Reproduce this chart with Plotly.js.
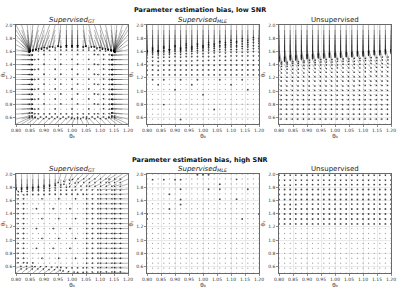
<!DOCTYPE html>
<html><head><meta charset="utf-8">
<script src="https://cdn.plot.ly/plotly-3.0.1.min.js"></script>
<style>html,body{margin:0;padding:0;background:#fff}</style>
</head><body><div id="chart" style="width:400px;height:294px"></div>
<script>
// grid of true parameters
const thetaX = [0.80,0.82,0.84,0.86,0.88,0.90,0.92,0.94,0.96,0.98,1.00,1.02,1.04,1.06,1.08,1.10,1.12,1.14,1.16,1.18,1.20];
const thetaY = [2.000,1.925,1.850,1.775,1.700,1.625,1.550,1.475,1.400,1.325,1.250,1.175,1.100,1.025,0.950,0.875,0.800,0.725,0.650,0.575,0.500];
const xTickVals = [0.80,0.85,0.90,0.95,1.00,1.05,1.10,1.15,1.20];
const xTickText = ['0.80','0.85','0.90','0.95','1.00','1.05','1.10','1.15','1.20'];
const yTickVals = [0.6,0.8,1.0,1.2,1.4,1.6,1.8,2.0];
const yTickText = ['0.6','0.8','1.0','1.2','1.4','1.6','1.8','2.0'];
const rowTitles = ['Parameter estimation bias, low SNR','Parameter estimation bias, high SNR'];
const panelTitles = ['<i>Supervised<sub>GT</sub></i>','<i>Supervised<sub>MLE</sub></i>','Unsupervised'];
const xLabel = 'θ₀', yLabel = 'θ₁';

// bias vectors (hundredths of a parameter unit), rows top (theta1=2.0) to bottom (0.5)
const gtLowU = [
[5,3,1,-1,-2,-3,-3,-2,-1,0,0,0,1,2,3,3,2,1,-1,-3,-5],
[5,3,1,-1,-2,-2,-2,-2,-1,0,0,0,1,2,2,2,2,1,-1,-3,-5],
[5,3,1,-1,-1,-2,-2,-1,-1,0,0,0,1,1,2,2,1,1,-1,-3,-5],
[5,3,1,-1,-1,-1,-1,-1,0,0,0,0,0,1,1,1,1,0,-1,-3,-5],
[5,3,1,0,-1,-1,-1,0,0,0,0,0,0,0,1,1,1,0,-1,-3,-5],
[5,3,1,0,0,0,0,0,0,0,0,0,0,0,0,0,0,0,-1,-3,-5],
[5,4,2,0,0,0,0,0,0,0,0,0,0,0,0,-1,-1,-1,-2,-4,-6],
[6,4,2,1,0,0,0,0,0,0,0,0,0,0,0,0,-1,-1,-2,-4,-6],
[5,4,2,0,0,0,0,0,0,0,0,0,0,0,0,-1,-1,-1,-2,-4,-6],
[6,4,2,1,0,0,0,0,0,0,0,0,0,0,0,0,-1,-1,-2,-4,-6],
[5,4,2,0,0,0,0,0,0,0,0,0,0,0,0,-1,-1,-1,-2,-4,-6],
[6,4,2,1,0,0,0,0,0,0,0,0,0,0,0,0,-1,-1,-2,-4,-6],
[5,4,2,0,0,0,0,0,0,0,0,0,0,0,0,-1,-1,-1,-2,-4,-6],
[6,4,2,1,0,0,0,0,0,0,0,0,0,0,0,0,-1,-1,-2,-4,-6],
[5,4,2,0,0,0,0,0,0,0,0,0,0,0,0,-1,-1,-1,-2,-4,-6],
[6,4,2,1,0,0,0,0,0,0,0,0,0,0,0,0,-1,-1,-2,-4,-6],
[5,4,2,0,0,0,0,0,0,0,0,0,0,0,0,-1,-1,-1,-2,-4,-6],
[6,4,2,1,0,0,0,0,0,0,0,0,0,0,0,0,-1,-1,-2,-4,-6],
[5,4,2,1,0,0,0,0,0,0,0,0,0,0,0,-1,-1,-1,-2,-4,-6],
[5,4,2,1,1,1,1,1,1,1,0,0,0,-1,-1,-1,-1,-1,-2,-4,-5],
[5,4,3,2,2,2,2,2,2,2,1,0,-1,-1,-2,-2,-2,-2,-3,-4,-5]];
const gtLowV = [
[-40,-40,-40,-40,-39,-38,-36,-34,-33,-32,-32,-32,-33,-34,-36,-38,-39,-40,-40,-40,-40],
[-33,-33,-33,-32,-31,-30,-28,-27,-26,-25,-25,-25,-26,-27,-28,-30,-31,-32,-33,-33,-33],
[-25,-25,-25,-24,-23,-22,-20,-19,-18,-18,-18,-18,-18,-19,-20,-22,-23,-24,-25,-25,-25],
[-18,-18,-18,-17,-16,-15,-13,-12,-11,-11,-11,-11,-11,-12,-13,-15,-16,-17,-18,-18,-18],
[-11,-11,-11,-10,-9,-8,-7,-6,-5,-5,-5,-5,-5,-6,-7,-8,-9,-10,-11,-11,-11],
[-4,-4,-4,-3,-3,-2,-2,-1,-1,-1,-1,-1,-1,-1,-2,-2,-3,-3,-4,-4,-4],
[-1,-1,0,0,0,1,0,0,1,0,0,1,0,0,1,0,0,0,0,-1,-1],
[0,0,0,0,1,0,0,1,0,0,1,0,0,1,0,0,1,0,0,0,0],
[0,0,0,0,0,1,0,0,1,0,0,1,0,0,1,0,0,0,0,0,0],
[0,0,0,0,1,0,0,1,0,0,1,0,0,1,0,0,1,0,0,0,0],
[0,0,0,0,0,1,0,0,1,0,0,1,0,0,1,0,0,0,0,0,0],
[0,0,0,0,1,0,0,1,0,0,1,0,0,1,0,0,1,0,0,0,0],
[0,0,0,0,0,1,0,0,1,0,0,1,0,0,1,0,0,0,0,0,0],
[0,0,0,0,1,0,0,1,0,0,1,0,0,1,0,0,1,0,0,0,0],
[0,0,0,0,0,1,0,0,1,0,0,1,0,0,1,0,0,0,0,0,0],
[0,0,0,0,1,0,0,1,0,0,1,0,0,1,0,0,1,0,0,0,0],
[0,0,0,0,0,1,0,0,1,0,0,1,0,0,1,0,0,0,0,0,0],
[1,1,0,0,1,0,0,1,0,0,1,0,0,1,0,0,1,0,0,1,1],
[2,2,2,1,1,1,1,1,1,1,1,1,1,1,1,1,1,1,2,2,2],
[5,5,5,4,4,4,4,4,4,4,4,4,4,4,4,4,4,4,5,5,5],
[10,10,10,9,9,9,9,9,9,9,9,9,9,9,9,9,9,9,10,10,10]];

const mleLowU = [
[0,0,0,0,0,0,0,0,0,0,0,0,0,0,0,0,0,0,0,0,0],
[0,0,0,0,0,0,0,0,0,0,0,0,0,0,0,0,0,0,0,0,0],
[0,0,0,0,0,0,0,0,0,0,0,0,0,0,0,0,0,0,0,0,0],
[0,0,0,0,0,0,0,0,0,0,0,0,0,0,0,0,0,0,0,0,0],
[0,0,0,0,0,0,0,0,0,0,0,0,0,0,0,0,0,0,0,0,0],
[0,0,0,0,0,0,0,0,0,0,0,0,0,0,0,0,0,0,0,0,0],
[0,0,0,0,0,0,0,0,0,0,0,0,0,0,0,0,0,0,0,0,0],
[0,0,0,0,0,0,0,0,0,0,0,0,0,0,0,0,0,0,0,0,0],
[0,0,0,0,0,0,0,0,0,0,0,0,0,0,0,0,0,0,0,0,0],
[0,0,0,0,0,0,0,0,0,0,0,0,0,0,0,0,0,0,0,0,0],
[0,0,0,0,0,0,0,0,0,0,0,0,0,0,0,0,0,0,0,0,0],
[0,0,0,0,0,0,0,0,0,0,0,0,0,0,0,0,0,0,0,0,0],
[0,0,0,0,0,0,0,0,0,0,0,0,0,0,0,0,0,0,0,0,0],
[0,0,0,0,0,0,0,0,0,0,0,0,0,0,0,0,0,0,0,0,0],
[0,0,0,0,0,0,0,0,0,0,0,0,0,0,0,0,0,0,0,0,0],
[0,0,0,0,0,0,0,0,0,0,0,0,0,0,0,0,0,0,0,0,0],
[0,0,0,0,0,0,0,0,0,0,0,0,0,0,0,0,0,0,0,0,0],
[0,0,0,0,0,0,0,0,0,0,0,0,0,0,0,0,0,0,0,0,0],
[0,0,0,0,0,0,0,0,0,0,0,0,0,0,0,0,0,0,0,0,0],
[0,0,0,0,0,0,0,0,0,0,0,0,0,0,0,0,0,0,0,0,0],
[0,0,0,0,0,0,0,0,0,0,0,0,0,0,0,0,0,0,0,0,0]];
const mleLowV = [
[-40,-36,-40,-34,-38,-32,-36,-30,-34,-30,-32,-28,-30,-26,-28,-24,-26,-22,-24,-20,-22],
[-33,-30,-33,-28,-31,-26,-29,-25,-28,-24,-26,-23,-24,-21,-23,-20,-21,-18,-20,-16,-18],
[-26,-24,-26,-22,-24,-21,-23,-20,-22,-19,-20,-18,-19,-17,-18,-16,-17,-15,-16,-13,-14],
[-20,-18,-19,-17,-18,-16,-17,-15,-16,-14,-15,-13,-14,-12,-13,-12,-12,-11,-12,-10,-11],
[-14,-13,-14,-12,-13,-11,-12,-10,-11,-10,-10,-9,-10,-8,-9,-8,-8,-7,-8,-7,-7],
[-9,-8,-9,-8,-8,-7,-8,-7,-7,-6,-7,-6,-6,-5,-6,-5,-5,-5,-5,-4,-5],
[-6,-5,-6,-5,-5,-4,-5,-4,-4,-4,-4,-4,-4,-3,-4,-3,-3,-3,-3,-3,-3],
[-4,-3,-4,-3,-3,-3,-3,-3,-3,-2,-3,-2,-2,-2,-2,-2,-2,-2,-2,-2,-2],
[-3,-2,-3,-2,-2,-2,-2,-2,-2,-2,-2,-1,-2,-1,-1,-1,-1,-1,-1,-1,-1],
[-2,-1,-2,-1,-1,-1,-1,-1,-1,-1,-1,-1,-1,-1,-1,-1,-1,-1,-1,-1,-1],
[-1,-1,-1,-1,-1,-1,-1,-1,-1,-1,-1,-1,-1,-1,-1,-1,-1,-1,-1,-1,-1],
[0,-1,0,-1,0,0,-1,0,0,-1,0,0,0,-1,0,0,0,-1,0,0,0],
[0,0,-1,0,0,0,0,0,-1,0,0,0,0,0,0,-1,0,0,0,0,0],
[0,0,0,0,0,-1,0,0,0,0,0,0,0,0,0,0,0,0,-1,0,0],
[0,0,0,0,0,0,0,0,0,0,-1,0,0,0,0,0,0,0,0,0,0],
[0,0,0,0,0,0,0,0,0,0,0,0,0,0,0,0,0,0,0,0,0],
[0,0,0,-1,0,0,0,0,0,0,0,0,0,0,0,0,0,0,0,0,0],
[0,0,0,0,0,0,0,0,0,0,0,0,-1,0,0,0,0,0,0,0,0],
[0,0,0,0,0,0,0,0,0,0,0,0,0,0,0,0,0,0,0,0,0],
[0,0,0,0,0,0,-1,0,0,0,0,0,0,0,0,0,0,0,0,0,0],
[0,0,0,0,0,0,0,0,0,0,0,0,0,0,0,0,0,0,0,0,0]];

const unsupLowU = [
[0,0,0,0,0,0,0,0,0,0,0,0,0,0,0,0,0,0,0,0,0],
[0,0,0,0,0,0,0,0,0,0,0,0,0,0,0,0,0,0,0,0,0],
[0,0,0,0,0,0,0,0,0,0,0,0,0,0,0,0,0,0,0,0,0],
[0,0,0,0,0,0,0,0,0,0,0,0,0,0,0,0,0,0,0,0,0],
[0,0,0,0,0,0,0,0,0,0,0,0,0,0,0,0,0,0,0,0,0],
[1,1,1,1,1,1,1,1,1,1,1,1,1,1,1,1,1,1,1,1,1],
[1,1,1,1,1,1,1,1,1,1,1,1,1,1,1,1,1,1,1,1,1],
[1,1,1,1,1,1,1,1,1,1,1,1,1,1,1,1,1,1,1,1,1],
[1,1,1,1,1,1,1,1,1,1,1,1,1,1,1,1,1,1,1,1,1],
[1,1,1,1,1,1,1,1,1,1,1,1,1,1,1,1,1,1,1,1,1],
[1,1,1,1,1,1,1,1,1,1,1,1,1,1,1,1,1,1,1,1,1],
[1,1,1,1,1,1,1,1,1,1,1,1,1,1,1,1,1,1,1,1,1],
[1,1,1,1,1,1,1,1,1,1,1,1,1,1,1,1,1,1,1,1,1],
[1,1,1,1,1,1,1,1,1,1,1,1,1,1,1,1,1,1,1,1,1],
[1,1,1,1,1,1,1,1,1,1,1,1,1,1,1,1,1,1,1,1,1],
[1,1,1,1,1,1,1,1,1,1,1,1,1,1,1,1,1,1,1,1,1],
[1,1,1,1,1,1,1,1,1,1,1,1,1,1,1,1,1,1,1,1,1],
[1,1,1,1,1,1,1,1,1,1,1,1,1,1,1,1,1,1,1,1,1],
[1,1,1,1,1,1,1,1,1,1,1,1,1,1,1,1,1,1,1,1,1],
[1,1,1,1,1,1,1,1,1,1,1,1,1,1,1,1,1,1,1,1,1],
[0,0,0,0,0,0,0,0,0,0,0,0,0,0,0,0,0,0,0,0,0]];
const unsupLowV = [
[-50,-50,-48,-48,-47,-46,-46,-45,-45,-44,-44,-44,-43,-43,-42,-42,-41,-40,-40,-39,-38],
[-44,-44,-42,-42,-41,-40,-40,-39,-39,-38,-38,-38,-37,-37,-36,-36,-35,-34,-34,-33,-32],
[-38,-38,-36,-36,-35,-34,-34,-33,-33,-32,-32,-32,-31,-31,-30,-30,-29,-28,-28,-27,-26],
[-32,-32,-30,-30,-29,-28,-28,-27,-27,-26,-26,-26,-25,-25,-24,-24,-23,-22,-22,-21,-20],
[-26,-26,-24,-24,-23,-22,-22,-21,-21,-20,-20,-20,-19,-19,-18,-18,-17,-16,-16,-15,-14],
[-20,-20,-19,-19,-18,-17,-17,-16,-16,-16,-15,-15,-15,-14,-14,-14,-13,-13,-12,-12,-11],
[-15,-15,-14,-14,-13,-13,-13,-12,-12,-12,-11,-11,-11,-11,-10,-10,-10,-10,-9,-9,-9],
[-11,-11,-10,-10,-10,-10,-9,-9,-9,-9,-9,-8,-8,-8,-8,-8,-7,-7,-7,-7,-7],
[-8,-8,-8,-8,-7,-7,-7,-7,-7,-7,-6,-6,-6,-6,-6,-6,-6,-5,-5,-5,-5],
[-6,-6,-6,-6,-6,-5,-5,-5,-5,-5,-5,-5,-5,-5,-5,-4,-4,-4,-4,-4,-4],
[-5,-5,-5,-5,-4,-4,-4,-4,-4,-4,-4,-4,-4,-4,-4,-4,-3,-3,-3,-3,-3],
[-3,-3,-3,-3,-3,-3,-3,-3,-3,-3,-3,-3,-3,-3,-3,-3,-3,-3,-3,-3,-3],
[-3,-3,-3,-3,-3,-3,-3,-3,-3,-3,-3,-3,-3,-3,-2,-2,-2,-2,-2,-2,-2],
[-2,-2,-2,-2,-2,-2,-2,-2,-2,-2,-2,-2,-2,-2,-2,-2,-2,-2,-2,-2,-2],
[-2,-2,-2,-2,-2,-2,-2,-2,-2,-2,-2,-2,-2,-2,-2,-2,-2,-2,-2,-2,-2],
[-1,-1,-1,-1,-1,-1,-1,-1,-1,-1,-1,-1,-1,-1,-1,-1,-1,-1,-1,-1,-1],
[-1,-1,-1,-1,-1,-1,-1,-1,-1,-1,-1,-1,-1,-1,-1,-1,-1,-1,-1,-1,-1],
[0,0,0,0,0,0,0,0,0,0,0,0,0,0,0,0,0,0,0,0,0],
[0,0,0,0,0,0,0,0,0,0,0,0,0,0,0,0,0,0,0,0,0],
[0,0,0,0,0,0,0,0,0,0,0,0,0,0,0,0,0,0,0,0,0],
[0,0,0,0,0,0,0,0,0,0,0,0,0,0,0,0,0,0,0,0,0]];

const gtHighU = [
[0,0,0,0,0,0,0,0,-1,-1,-1,-2,-2,-2,-2,-2,-2,-2,-3,-3,-3],
[0,0,0,0,0,0,0,0,0,-1,-1,-1,-2,-2,-2,-2,-2,-2,-3,-3,-3],
[0,0,0,0,0,0,0,0,0,0,-1,-1,-1,-1,-2,-2,-2,-2,-2,-3,-3],
[1,0,0,0,0,0,0,0,0,0,0,-1,-1,-1,-1,-1,-2,-2,-2,-3,-3],
[1,1,0,0,0,0,0,0,0,0,0,0,0,-1,-1,-1,-2,-2,-2,-3,-3],
[1,1,0,0,0,-1,0,0,-1,0,0,-1,0,-1,-1,-1,-2,-2,-2,-3,-3],
[1,1,0,0,0,0,0,0,0,0,0,0,0,-1,-1,-1,-2,-2,-2,-3,-3],
[1,1,0,0,-1,0,0,-1,0,0,-1,0,0,-1,-1,-1,-2,-2,-2,-3,-3],
[1,1,0,0,0,0,0,0,0,0,0,0,0,-1,-1,-1,-2,-2,-2,-3,-3],
[1,1,0,0,0,-1,0,0,-1,0,0,-1,0,-1,-1,-1,-2,-2,-2,-3,-3],
[1,1,0,0,0,0,0,0,0,0,0,0,0,-1,-1,-1,-2,-2,-2,-3,-3],
[1,1,0,0,-1,0,0,-1,0,0,-1,0,0,-1,-1,-1,-2,-2,-2,-3,-3],
[1,1,0,0,0,0,0,0,0,0,0,0,0,-1,-1,-1,-2,-2,-2,-3,-3],
[1,1,0,0,0,-1,0,0,-1,0,0,-1,0,-1,-1,-1,-2,-2,-2,-3,-3],
[1,1,0,0,0,0,0,0,0,0,0,0,0,-1,-1,-1,-2,-2,-2,-3,-3],
[1,1,0,0,-1,0,0,-1,0,0,-1,0,0,-1,-1,-1,-2,-2,-2,-3,-3],
[1,1,0,0,0,0,0,0,0,0,0,0,0,-1,-1,-1,-2,-2,-2,-3,-3],
[1,1,0,0,0,-1,0,0,-1,0,0,-1,0,-1,-1,-1,-2,-2,-2,-3,-3],
[1,1,0,0,0,0,0,0,0,0,0,0,0,-1,-1,-1,-2,-2,-2,-3,-3],
[2,2,2,1,1,1,1,1,0,0,0,0,0,-1,-1,-1,-2,-2,-2,-3,-3],
[2,2,2,2,2,2,2,2,1,1,1,0,0,-1,-1,-1,-2,-2,-2,-3,-3]];
const gtHighV = [
[-22,-22,-21,-21,-20,-19,-18,-16,-14,-12,-10,-9,-8,-8,-8,-8,-8,-8,-8,-8,-8],
[-16,-16,-15,-15,-14,-13,-12,-11,-10,-9,-8,-7,-6,-6,-6,-6,-6,-6,-6,-6,-6],
[-10,-10,-9,-9,-9,-8,-8,-7,-6,-6,-5,-5,-4,-4,-4,-4,-4,-4,-4,-4,-4],
[-5,-5,-5,-4,-4,-4,-4,-3,-3,-3,-3,-2,-2,-2,-2,-2,-2,-2,-2,-2,-2],
[-2,-2,-2,-2,-2,-2,-1,-1,-1,-1,-1,-1,-1,-1,-1,-1,-1,-1,-1,-1,-1],
[0,0,0,0,0,0,0,0,0,0,0,0,0,0,0,0,0,0,0,0,0],
[0,0,0,0,0,0,0,0,0,0,0,0,0,0,0,0,0,0,0,0,0],
[0,0,0,0,0,0,0,0,0,0,0,0,0,0,0,0,0,0,0,0,0],
[0,0,0,0,0,0,0,0,0,0,0,0,0,0,0,0,0,0,0,0,0],
[0,0,0,0,0,0,0,0,0,0,0,0,0,0,0,0,0,0,0,0,0],
[0,0,0,0,0,0,0,0,0,0,0,0,0,0,0,0,0,0,0,0,0],
[0,0,0,0,0,0,0,0,0,0,0,0,0,0,0,0,0,0,0,0,0],
[0,0,0,0,0,0,0,0,0,0,0,0,0,0,0,0,0,0,0,0,0],
[0,0,0,0,0,0,0,0,0,0,0,0,0,0,0,0,0,0,0,0,0],
[0,0,0,0,0,0,0,0,0,0,0,0,0,0,0,0,0,0,0,0,0],
[0,0,0,0,0,0,0,0,0,0,0,0,0,0,0,0,0,0,0,0,0],
[0,0,0,0,0,0,0,0,0,0,0,0,0,0,0,0,0,0,0,0,0],
[0,0,0,0,0,0,0,0,0,0,0,0,0,0,0,0,0,0,0,0,0],
[1,1,1,1,0,0,0,0,0,0,0,0,0,0,0,0,0,0,0,0,0],
[3,3,3,3,3,3,2,2,2,1,1,1,1,1,1,1,1,1,1,1,1],
[7,7,7,7,7,6,6,5,4,3,2,2,2,2,2,2,2,2,2,2,2]];

const mleHighU = [
[0,0,0,0,0,0,0,0,0,0,0,0,0,0,0,0,0,0,0,0,0],
[0,0,0,0,0,0,0,0,0,0,0,0,0,0,0,0,0,0,0,0,0],
[0,0,0,0,0,0,0,0,0,0,0,0,0,0,0,0,0,0,0,0,0],
[0,0,0,0,0,0,0,0,0,0,0,0,0,0,0,0,0,0,0,0,0],
[0,0,0,0,0,0,0,0,0,0,0,0,0,0,0,0,0,0,0,0,0],
[0,0,0,0,0,0,0,0,0,0,0,0,0,0,0,0,0,0,0,0,0],
[0,0,0,0,0,0,0,0,0,0,0,0,0,0,0,0,0,0,0,0,0],
[0,0,0,0,0,0,0,0,0,0,0,0,0,0,0,0,0,0,0,0,0],
[0,0,0,0,0,0,0,0,0,0,0,0,0,0,0,0,0,0,0,0,0],
[0,0,0,0,0,0,0,0,0,0,0,0,0,0,0,0,0,0,0,0,0],
[0,0,0,0,0,0,0,0,0,0,0,0,0,0,0,0,0,0,0,0,0],
[0,0,0,0,0,0,0,0,0,0,0,0,0,0,0,0,0,0,0,0,0],
[0,0,0,0,0,0,0,0,0,0,0,0,0,0,0,0,0,0,0,0,0],
[0,0,0,0,0,0,0,0,0,0,0,0,0,0,0,0,0,0,0,0,0],
[0,0,0,0,0,0,0,0,0,0,0,0,0,0,0,0,0,0,0,0,0],
[0,0,0,0,0,0,0,0,0,0,0,0,0,0,0,0,0,0,0,0,0],
[0,0,0,0,0,0,0,0,0,0,0,0,0,0,0,0,0,0,0,0,0],
[0,0,0,0,0,0,0,0,0,0,0,0,0,0,0,0,0,0,0,0,0],
[0,0,0,0,0,0,0,0,0,0,0,0,0,0,0,0,0,0,0,0,0],
[0,0,0,0,0,0,0,0,0,0,0,0,0,0,0,0,0,0,0,0,0],
[0,0,0,0,0,0,0,0,0,0,0,0,0,0,0,0,0,0,0,0,0]];
const mleHighV = [
[0,0,0,0,0,0,0,0,0,-2,-2,-2,0,0,0,0,0,0,0,0,0],
[0,-2,0,-2,0,-2,-2,0,0,0,0,0,0,0,0,0,-1,0,0,0,0],
[0,0,0,0,0,0,0,0,0,0,0,0,0,-1,0,0,0,0,0,0,0],
[0,0,0,0,0,0,-1,0,0,0,0,-1,0,-1,0,0,0,0,-1,0,0],
[0,0,0,0,-1,0,0,0,0,0,0,0,0,0,0,0,0,0,0,0,0],
[0,0,0,0,0,0,-2,0,0,0,0,0,0,-1,0,0,-1,0,0,0,0],
[0,0,0,0,0,0,-2,0,0,0,0,0,0,0,0,0,0,0,0,0,0],
[0,0,0,0,-1,0,0,0,0,0,0,0,0,0,0,0,0,0,0,0,0],
[-1,0,0,0,0,0,0,0,0,0,0,0,0,0,0,0,0,0,0,0,-1],
[-1,0,0,0,0,0,0,0,0,0,0,0,0,0,0,0,0,-1,0,0,0],
[0,0,0,0,0,0,0,0,0,0,0,0,0,0,0,0,0,0,0,0,0],
[0,0,0,0,0,0,0,0,0,0,0,0,0,0,0,0,0,0,0,0,0],
[0,0,0,0,0,0,0,0,0,0,0,0,0,0,0,0,0,0,0,0,0],
[0,0,0,0,0,0,0,0,0,0,0,0,0,0,0,0,0,0,0,0,0],
[0,0,0,0,0,0,0,0,0,0,0,0,0,0,0,0,0,0,0,0,0],
[0,0,0,0,0,0,0,0,0,0,0,0,0,0,0,0,0,0,0,0,0],
[0,0,0,0,0,0,0,0,0,0,0,0,0,0,0,0,0,0,0,0,0],
[0,0,0,0,0,0,0,0,0,0,0,0,0,0,0,0,0,0,0,0,0],
[0,0,0,0,0,0,0,0,0,0,0,0,0,0,0,0,0,0,0,0,0],
[0,0,0,0,0,0,0,0,0,0,0,0,0,0,0,0,0,0,0,0,0],
[0,0,0,0,0,0,0,0,0,0,0,0,0,0,0,0,0,0,0,0,0]];

const unsupHighU = mleHighU;
const unsupHighV = [
[-3,-3,-3,-3,-3,-3,-3,-3,-3,-3,-3,-3,-3,-3,-3,-3,-3,-3,-3,-3,-3],
[-3,-3,-3,-3,-3,-3,-3,-3,-3,-3,-3,-3,-3,-3,-3,-3,-3,-3,-3,-3,-3],
[-3,-3,-3,-2,-2,-2,-2,-2,-2,-2,-2,-2,-2,-2,-2,-2,-2,-2,-2,-2,-2],
[-2,-2,-2,-2,-2,-2,-2,-2,-2,-2,-2,-2,-2,-2,-2,-2,-2,-2,-2,-2,-2],
[-2,-2,-2,-2,-2,-2,-2,-2,-2,-2,-2,-2,-2,-2,-2,-2,-2,-2,-2,-2,-2],
[-2,-2,-2,-2,-2,-2,-2,-2,-2,-2,-2,-2,-2,-2,-2,-2,-2,-2,-2,-2,-2],
[-2,-2,-2,-2,-1,-1,-1,-1,-1,-1,-1,-1,-1,-1,-1,-1,-1,-1,-1,-1,-1],
[-1,-1,-1,-1,-1,-1,-1,-1,-1,-1,-1,-1,-1,-1,-1,-1,-1,-1,-1,-1,-1],
[-1,-1,-1,-1,-1,-1,-1,-1,-1,-1,-1,-1,-1,-1,-1,-1,-1,-1,-1,-1,-1],
[-1,-1,-1,-1,-1,-1,-1,-1,-1,-1,-1,-1,-1,-1,-1,-1,-1,-1,-1,-1,-1],
[-1,-1,-1,-1,-1,-1,-1,-1,-1,-1,-1,-1,-1,-1,-1,-1,-1,-1,-1,-1,-1],
[0,0,0,0,0,0,0,0,0,0,0,0,0,0,0,0,0,0,0,0,0],
[0,0,0,0,0,0,0,0,0,0,0,0,0,0,0,0,0,0,0,0,0],
[0,0,0,0,0,0,0,0,0,0,0,0,0,0,0,0,0,0,0,0,0],
[0,0,0,0,0,0,0,0,0,0,0,0,0,0,0,0,0,0,0,0,0],
[0,0,0,0,0,0,0,0,0,0,0,0,0,0,0,0,0,0,0,0,0],
[0,0,0,0,0,0,0,0,0,0,0,0,0,0,0,0,0,0,0,0,0],
[0,0,0,0,0,0,0,0,0,0,0,0,0,0,0,0,0,0,0,0,0],
[0,0,0,0,0,0,0,0,0,0,0,0,0,0,0,0,0,0,0,0,0],
[0,0,0,0,0,0,0,0,0,0,0,0,0,0,0,0,0,0,0,0,0],
[0,0,0,0,0,0,0,0,0,0,0,0,0,0,0,0,0,0,0,0,0]];

const panels = [[gtLowU,gtLowV],[mleLowU,mleLowV],[unsupLowU,unsupLowV],
                [gtHighU,gtHighV],[mleHighU,mleHighV],[unsupHighU,unsupHighV]];

const W = 400, H = 294;
const xDomains = [[0.040,0.320],[0.3675,0.6475],[0.6975,0.9775]];
const yDomains = [[0.578,0.915],[0.071,0.408]];
const titleY = [0.965,0.456];
const xRange = [0.8,1.2], yRange = [0.5,2.0];
const font = 'DejaVu Sans, sans-serif';

const traces = [];
const layout = {width:W,height:H,margin:{l:0,r:0,t:0,b:0},showlegend:false,
  paper_bgcolor:'#fff',plot_bgcolor:'#fff',font:{family:font,color:'#222'},annotations:[]};

panels.forEach((p,k)=>{
  const row = Math.floor(k/3), col = k%3;
  const s = k===0?'':String(k+1);
  const xd = xDomains[col], yd = yDomains[row];
  const xs = (xd[1]-xd[0])*W/(xRange[1]-xRange[0]);
  const ys = (yd[1]-yd[0])*H/(yRange[1]-yRange[0]);
  const [U,V] = p;
  const dx=[],dy=[],lx=[],ly=[],hx=[],hy=[],ha=[],sx=[],sy=[];
  thetaY.forEach((y,j)=>{
    thetaX.forEach((x,i)=>{
      const u = U[j][i]/100, v = V[j][i]/100;
      const px = u*xs, py = v*ys, L = Math.hypot(px,py);
      if (L >= 1.5) {
        lx.push(x, x+u, null); ly.push(y, y+v, null);
        const back = 0.7/L;
        hx.push(x+u*(1-back)); hy.push(y+v*(1-back));
        ha.push(Math.atan2(px,py)*180/Math.PI);
      } else if (L > 0) {
        sx.push(x+u/2); sy.push(y+v/2);
      } else {
        dx.push(x); dy.push(y);
      }
    });
  });
  const ax = {xaxis:'x'+s, yaxis:'y'+s, hoverinfo:'skip'};
  traces.push(Object.assign({type:'scatter',mode:'markers',x:dx,y:dy,
    marker:{size:1.3,color:'rgba(0,0,0,0.35)',line:{width:0}}},ax));
  traces.push(Object.assign({type:'scatter',mode:'markers',x:sx,y:sy,
    marker:{size:1.9,color:'rgba(0,0,0,0.7)',line:{width:0}}},ax));
  traces.push(Object.assign({type:'scatter',mode:'lines',x:lx,y:ly,
    line:{color:'rgba(0,0,0,0.6)',width:0.5}},ax));
  traces.push(Object.assign({type:'scatter',mode:'markers',x:hx,y:hy,
    marker:{symbol:'triangle-up',size:2,angle:ha,color:'rgba(0,0,0,0.75)',line:{width:0}}},ax));

  layout['xaxis'+s] = {domain:xd, range:xRange, anchor:'y'+s, tickvals:xTickVals, ticktext:xTickText,
    showgrid:true, gridcolor:'#dcdcdc', gridwidth:0.6, zeroline:false, showline:true, linecolor:'#444', linewidth:0.8,
    mirror:true, ticks:'outside', ticklen:2, tickwidth:0.6, tickcolor:'#444',
    tickfont:{size:4.5,family:font,color:'#333'},
    title:{text:xLabel,font:{size:5.5,family:font,color:'#222'},standoff:1}};
  layout['yaxis'+s] = {domain:yd, range:yRange, anchor:'x'+s, tickvals:yTickVals, ticktext:yTickText,
    showgrid:true, gridcolor:'#dcdcdc', gridwidth:0.6, zeroline:false, showline:true, linecolor:'#444', linewidth:0.8,
    mirror:true, ticks:'outside', ticklen:2, tickwidth:0.6, tickcolor:'#444',
    tickfont:{size:4.5,family:font,color:'#333'},
    title:{text:yLabel,font:{size:5.5,family:font,color:'#222'},standoff:2}};
  layout.annotations.push({xref:'paper',yref:'paper',x:(xd[0]+xd[1])/2,y:yd[1],yanchor:'bottom',xanchor:'center',
    yshift:-1, showarrow:false, text:panelTitles[col], font:{size:7,family:font,color:'#222'}});
});
rowTitles.forEach((t,r)=>{
  layout.annotations.push({xref:'paper',yref:'paper',x:0.5,y:titleY[r],yanchor:'middle',xanchor:'center',
    showarrow:false,text:'<b>'+t+'</b>',font:{size:6.5,family:font,color:'#111'}});
});
Plotly.newPlot('chart',traces,layout,{staticPlot:true,displayModeBar:false});
</script></body></html>
